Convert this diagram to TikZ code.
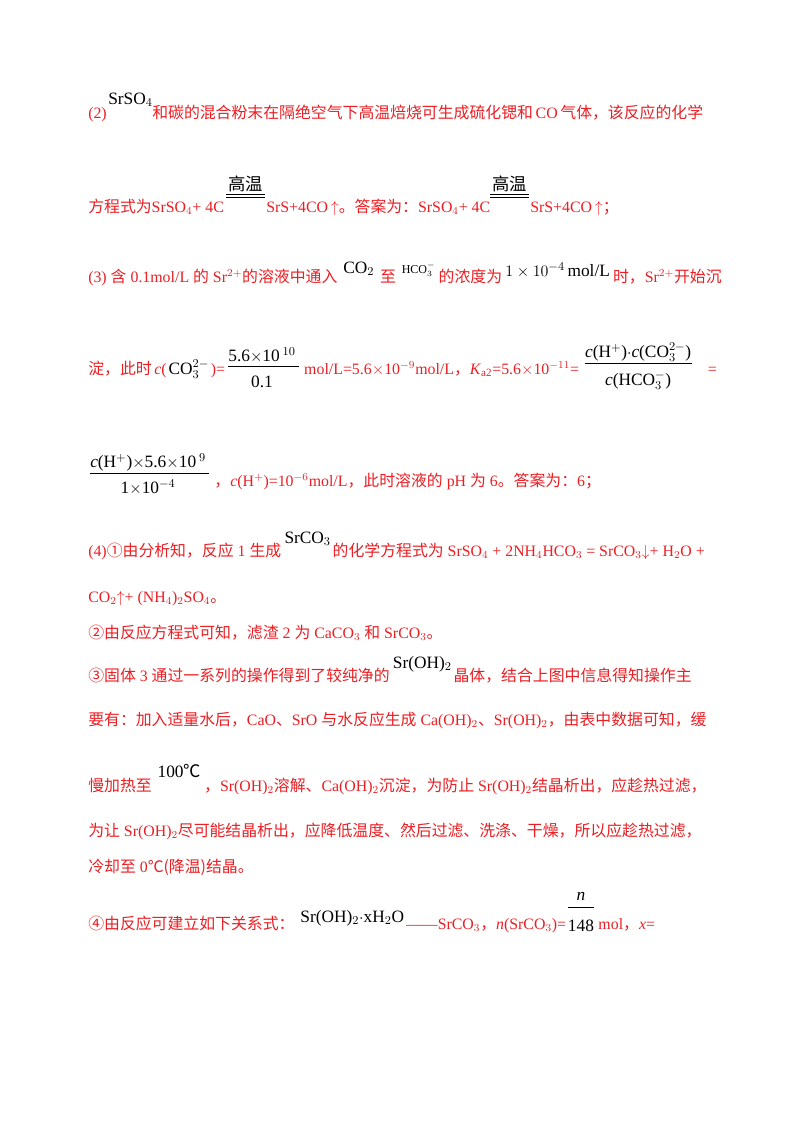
\documentclass[tikz,border=0pt]{standalone}
\usepackage{fontspec}
\usepackage{amsmath}
\setmainfont{Liberation Serif}
\newfontfamily\cjk{Noto Sans CJK SC}
\definecolor{rd}{RGB}{235,30,35}
\newcommand{\zh}[1]{{\cjk #1}}
\begin{document}
\begin{tikzpicture}[x=0.75pt,y=-0.75pt,
  t/.style={anchor=base west,inner sep=0pt,text=rd,font=\fontsize{11.9}{14}\selectfont},
  b/.style={anchor=base west,inner sep=0pt,text=black,font=\fontsize{13}{15}\selectfont}]
\useasboundingbox (0,0) rectangle (800,1129);
% line 1
\node[t] (a1) at (88,118) {(2)};
\node[b] (a2) at (108,104) {SrSO$_4$};
\node[t] (a3) at (152,118) {\zh{和碳的混合粉末在隔绝空气下高温焙烧可生成硫化锶和}\,CO\,\zh{气体，该反应的化学}};
% line 2
\node[t] (b1) at (88,212) {\zh{方程式为}SrSO$_4$+ 4C};
\node[b] (b2) at (228,190) {\zh{高温}};
\draw (226,194) -- (265,194) (226,197) -- (265,197);
\node[t] (b3) at (266,212) {SrS+4CO\,$\uparrow$\zh{。答案为：}SrSO$_4$+ 4C};
\node[b] (b4) at (492,190) {\zh{高温}};
\draw (490,194) -- (529,194) (490,197) -- (529,197);
\node[t] (b5) at (530,212) {SrS+4CO\,$\uparrow$\zh{；}};
% line 3
\node[t] (c1) at (88,282) {(3) \zh{含} 0.1mol/L \zh{的} Sr$^{2+}$\zh{的溶液中通入}};
\node[b] (c2) at ([xshift=4]c1.base east |- 0,273) {CO$_2$};
\node[t] (c3) at ([xshift=4]c2.base east |- c1.base) {\zh{至}};
\node[b] (c4) at ([xshift=4]c3.base east |- 0,273) {\small HCO$_3^-$};
\node[t] (c5) at ([xshift=2]c4.base east |- c1.base) {\zh{的浓度为}};
\node[b] (c6) at ([xshift=2]c5.base east |- 0,276) {$1\times10^{-4}\,$mol/L};
\node[t] (c7) at ([xshift=2]c6.base east |- c1.base) {\zh{时，}Sr$^{2+}$\zh{开始沉}};
% line 4
\node[t] (d1) at (88,374) {\zh{淀，此时}\,\textit{c}(};
\node[b] (d2) at ([xshift=1]d1.base east) {CO$_3^{2-}$};
\node[t] (d3) at ([xshift=1]d2.base east) {)=};
\node[b] (d4) at ([xshift=2]d3.base east |- 0,361) {5.6$\times$10\,$^{10}$};
\draw (d4.base west |- 0,366) -- ([xshift=2]d4.base east |- 0,366);
\node[b,anchor=base] (d5) at ([yshift=-20pt]d4.base) {0.1};
\node[t] (d6) at ([xshift=6]d4.base east |- d1.base) {mol/L=5.6$\times$10$^{-9}$mol/L\zh{，}\textit{K}$_{\text{a2}}$=5.6$\times$10$^{-11}$=};
\node[b] (d7) at ([xshift=4]d6.base east |- 0,357) {\textit{c}(H$^+$)$\cdot$\textit{c}(CO$_3^{2-}$)};
\draw (d7.base west |- 0,363) -- (d7.base east |- 0,363);
\node[b,anchor=base] (d8) at ([yshift=-21pt]d7.base) {\textit{c}(HCO$_3^-$)};
\node[t] (d9) at ([xshift=12]d7.base east |- d1.base) {=};
% line 5
\node[b] (e1) at (90,467) {\textit{c}(H$^{+}$)$\times$5.6$\times$10\,$^{9}$};
\draw (90,473) -- ([xshift=2]e1.base east |- 0,473);
\node[b,anchor=base] (e2) at ([yshift=-20pt]e1.base) {1$\times$10$^{-4}$};
\node[t] (e3) at ([xshift=6]e1.base east |- 0,486) {\zh{，}\textit{c}(H$^+$)=10$^{-6}$mol/L\zh{，此时溶液的} pH \zh{为} 6\zh{。答案为：}6\zh{；}};
% line 6
\node[t] (f1) at (88,556) {(4)\zh{①由分析知，反应} 1 \zh{生成}};
\node[b] (f2) at ([xshift=2]f1.base east |- 0,543) {SrCO$_3$};
\node[t] (f3) at ([xshift=1]f2.base east |- f1.base) {\zh{的化学方程式为} SrSO$_4$ + 2NH$_4$HCO$_3$ = SrCO$_3$$\downarrow$+ H$_2$O +};
% line 7
\node[t] (g1) at (88,602) {CO$_2$$\uparrow$+ (NH$_4$)$_2$SO$_4$\zh{。}};
\node[t] (h1) at (88,638) {\zh{②由反应方程式可知，滤渣} 2 \zh{为} CaCO$_3$ \zh{和} SrCO$_3$\zh{。}};
\node[t] (i1) at (88,681) {\zh{③固体} 3 \zh{通过一系列的操作得到了较纯净的}};
\node[b] (i2) at ([xshift=2]i1.base east |- 0,668) {Sr(OH)$_2$};
\node[t] (i3) at ([xshift=1]i2.base east |- i1.base) {\zh{晶体，结合上图中信息得知操作主}};
\node[t] (j1) at (88,725) {\zh{要有：加入适量水后，}CaO\zh{、}SrO \zh{与水反应生成} Ca(OH)$_2$\zh{、}Sr(OH)$_2$\zh{，由表中数据可知，缓}};
\node[t] (k1) at (88,791) {\zh{慢加热至}};
\node[b] (k2) at ([xshift=4]k1.base east |- 0,777) {100\zh{℃}};
\node[t] (k3) at ([xshift=2]k2.base east |- k1.base) {\zh{，}Sr(OH)$_2$\zh{溶解、}Ca(OH)$_2$\zh{沉淀，为防止} Sr(OH)$_2$\zh{结晶析出，应趁热过滤，}};
\node[t] (l1) at (88,836) {\zh{为让} Sr(OH)$_2$\zh{尽可能结晶析出，应降低温度、然后过滤、洗涤、干燥，所以应趁热过滤，}};
\node[t] (m1) at (88,872) {\zh{冷却至} 0\zh{℃(降温)结晶。}};
% last line
\node[t] (n1) at (88,929) {\zh{④由反应可建立如下关系式：}};
\node[b] (n2) at ([xshift=4]n1.base east |- 0,922) {Sr(OH)$_2\cdot$xH$_2$O};
\node[t] (n3) at ([xshift=1]n2.base east |- n1.base) {——SrCO$_3$\zh{，}\textit{n}(SrCO$_3$)=};
\node[b] (n5) at ([xshift=1]n3.base east |- 0,931) {148};
\draw (n5.base west |- 0,907) -- (n5.base east |- 0,907);
\node[b,anchor=base] (n4) at ([yshift=23pt]n5.base) {\textit{n}};
\node[t] (n6) at ([xshift=3]n5.base east |- n1.base) {mol\zh{，}\textit{x}=};
\end{tikzpicture}
\end{document}
